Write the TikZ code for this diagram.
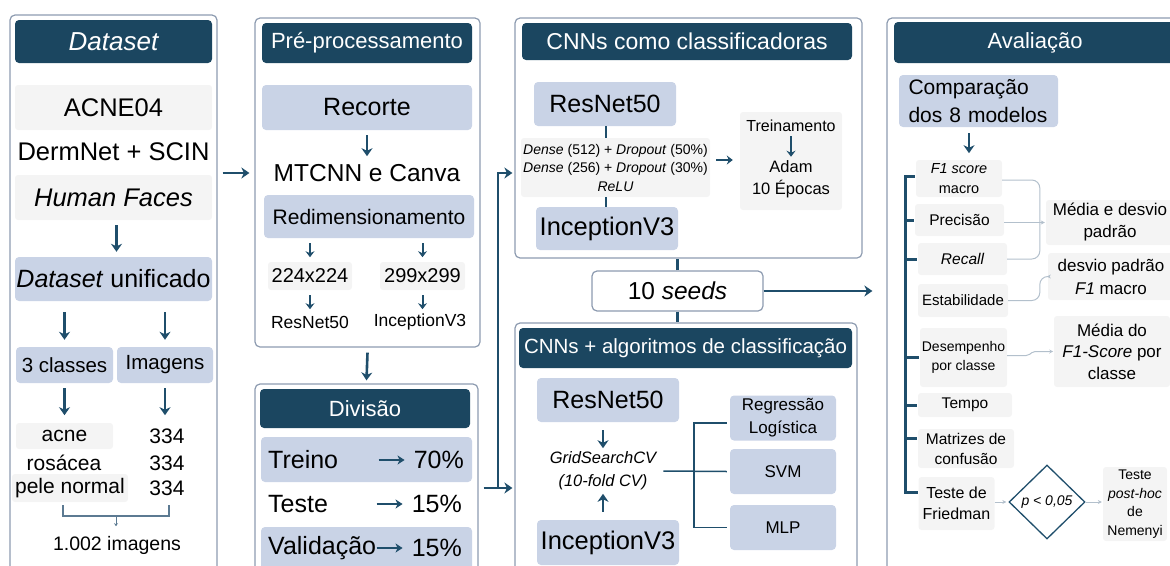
\documentclass[tikz,border=0pt]{standalone}
\usepackage{fontspec}
\setmainfont{Liberation Sans}
\usetikzlibrary{arrows.meta,shapes.geometric,calc}

\definecolor{headc}{HTML}{1B4660}
\definecolor{bluec}{HTML}{C9D3E6}
\definecolor{grayc}{HTML}{F4F4F4}
\definecolor{framec}{HTML}{8D9BB0}
\definecolor{arrc}{HTML}{1F4E6B}
\definecolor{brkc}{HTML}{5C7A92}
\definecolor{thinc}{HTML}{B3C0CC}

\newcommand\fsz[2]{\fontsize{#1}{#2}\selectfont}

\tikzset{
    wh/.style 2 args={minimum width=#1pt, minimum height=#2pt},
    panel/.style={draw=framec, line width=1.2pt, rounded corners=5pt, inner sep=0pt},
    head/.style={fill=headc, text=white, rounded corners=4pt, inner sep=0pt},
    bluebox/.style={fill=bluec, rounded corners=4pt, inner sep=0pt, align=center},
    graybox/.style={fill=grayc, rounded corners=3pt, inner sep=0pt, align=center},
    txt/.style={inner sep=0pt, align=center},
    arr/.style={draw=arrc, line width=2.6pt, -{Stealth[length=8pt,width=11pt,inset=2.5pt]}},
    smallarr/.style={draw=arrc, line width=2pt, -{Stealth[length=6pt,width=9pt,inset=2pt]}},
    txtarr/.style={draw=arrc, line width=2pt, -{Stealth[length=7pt,width=9pt,inset=2pt]}},
    link/.style={draw=arrc, line width=2.6pt},
    midline/.style={draw=arrc, line width=1.5pt},
    bus/.style={draw=arrc, line width=3pt},
    brk/.style={draw=brkc, line width=1.5pt},
    brkarr/.style={brk, line width=1pt, -{Stealth[length=3pt,width=4pt]}},
    thinline/.style={draw=thinc, line width=1pt, rounded corners=8pt},
    thinarr/.style={thinline, -{Stealth[length=4pt,width=4pt]}},
}

\begin{document}
\begin{tikzpicture}[x=1pt, y=-1pt]
    \useasboundingbox (0,0) rectangle (1170,565);

    \node[panel, wh={207}{560}] (pdata) at (113.5,295) {};
    \node[panel, wh={225}{329}] (ppre) at (367.5,182.5) {};
    \node[panel, wh={223}{191}] (pdiv) at (366.5,479.5) {};
    \node[panel, wh={347}{240}] (pcnn) at (688.5,138) {};
    \node[panel, wh={342}{252}] (pcls) at (686,449) {};
    \node[panel, wh={293}{557}] (pav) at (1033.5,296.5) {};

    \node[head, wh={197}{43}, font=\fsz{26}{30}\itshape] (dshead) at (113.5,41.5) {Dataset};
    \node[graybox, wh={197}{45}, font=\fsz{25.5}{30}] (acne04) at (113.5,107.5) {ACNE04};
    \node[txt, font=\fsz{25.5}{30}] (dermnet) at (113.5,152) {DermNet + SCIN};
    \node[graybox, wh={197}{45}, font=\fsz{25.5}{30}\itshape] (faces) at (113.5,197.5) {Human Faces};
    \node[bluebox, wh={197}{44}, font=\fsz{25}{30}] (unif) at (113.5,279) {\textit{Dataset} unificado};
    \draw[arr] ([xshift=3pt,yshift=-5pt]faces.south) -- ([xshift=3pt,yshift=5pt]unif.north);
    \node[bluebox, wh={97}{36}, font=\fsz{20.5}{24}] (cls) at (64.5,365) {3 classes};
    \node[bluebox, wh={96}{36}, font=\fsz{20.5}{24}] (img) at (165,365) {Imagens};
    \foreach \n in {cls,img} {
        \draw[arr] ([yshift=-11pt]unif.south -| \n) -- ([yshift=7pt]\n.north);
        \draw[arr] ([yshift=-5pt]\n.south) -- ++(0,27);
    }
    \node[graybox, wh={97}{26}, font=\fsz{21}{24}] (acne) at (64.5,436) {acne};
    \node[txt, font=\fsz{21}{24}] (rosacea) at (64,463) {rosácea};
    \node[graybox, wh={116}{28}, font=\fsz{21}{24}] (pele) at (70,488) {pele normal};
    \node[txt, font=\fsz{21}{24}] (n1) at (167,436) {334};
    \node[txt, font=\fsz{21}{24}] (n2) at (167,463) {334};
    \node[txt, font=\fsz{21}{24}] (n3) at (167,488) {334};
    \coordinate (bl) at ([xshift=-1.5pt,yshift=-3pt]cls.south |- pele.south);
    \coordinate (br) at ([xshift=4pt,yshift=-3pt]img.south |- pele.south);
    \draw[brk] (bl) -- ++(0,11) -| (br);
    \node[txt, font=\fsz{19.5}{23}] (total) at (117,545) {1.002 imagens};
    \draw[brkarr] ($(bl)!0.5!(br)+(0,11)$) -- ++(0,10);

    \draw[arr] (pdata.east |- dermnet) ++(0,21) ++(5,0) -- ([xshift=-5pt,yshift=-21pt]ppre.west |- dermnet);

    \node[head, wh={210}{40}, font=\fsz{22}{26}] (prehead) at (367,43) {Pré-processamento};
    \node[bluebox, wh={210}{45}, font=\fsz{25}{30}] (recorte) at (367,107.5) {Recorte};
    \node[txt, font=\fsz{24.5}{28}] (mtcnn) at (367,173) {MTCNN e Canva};
    \draw[arr] ([yshift=-5pt]recorte.south) -- ++(0,21);
    \node[bluebox, wh={210}{43}, font=\fsz{21}{25}] (redim) at (369,216.5) {Redimensionamento};
    \node[graybox, wh={84}{28}, font=\fsz{20}{24}] (r224) at (310,276) {224x224};
    \node[graybox, wh={85}{28}, font=\fsz{20}{24}] (r299) at (422.5,276) {299x299};
    \node[txt, font=\fsz{17.5}{21}] (pres) at (310,322) {ResNet50};
    \node[txt, font=\fsz{17.5}{21}] (pinc) at (420,322) {InceptionV3};
    \foreach \n in {r224,r299} {
        \draw[smallarr] ([yshift=-5pt]redim.south -| \n) -- ++(0,14);
        \draw[smallarr] ([yshift=-5pt]\n.south) -- ++(0,14);
    }

    \draw[arr] ([yshift=-5pt]ppre.south) -- ([yshift=3pt]pdiv.north);

    \node[head, wh={210}{39}, font=\fsz{22}{26}] (divhead) at (365,408.5) {Divisão};
    \node[bluebox, wh={211}{45}] (treinobox) at (366.5,459.5) {};
    \node[bluebox, wh={211}{44}] (valbox) at (366.5,549) {};
    \node[txt, anchor=west, font=\fsz{25}{30}] (treino) at (268,460) {Treino};
    \node[txt, anchor=east, font=\fsz{25}{30}] (p70) at (464,460) {70\%};
    \node[txt, anchor=west, font=\fsz{25}{30}] (teste) at (268,504) {Teste};
    \node[txt, anchor=east, font=\fsz{25}{30}] (p15a) at (462,504) {15\%};
    \node[txt, anchor=west, font=\fsz{25}{30}] (valid) at (268,548) {Validação};
    \node[txt, anchor=east, font=\fsz{25}{30}] (p15b) at (462,548) {15\%};
    \foreach \n in {p70,p15a,p15b} {
        \draw[txtarr] ([xshift=-35pt]\n.west) -- ([xshift=-9pt]\n.west);
    }

    \coordinate (split) at (498,488);
    \coordinate (up) at (498,173);
    \draw[arr] ([xshift=5pt]pdiv.east |- split) -- ([xshift=-2pt]pcls.west |- split);
    \draw[arr] (split) -- (up) -- ([xshift=-2pt]pcnn.west |- up);

    \node[head, wh={330}{37}, font=\fsz{23}{27}] (cnnhead) at (687,41.5) {CNNs como classificadoras};
    \node[bluebox, wh={142}{44}, font=\fsz{25}{30}] (res1) at (605,104) {ResNet50};
    \node[graybox, wh={189}{59}, font=\fsz{14}{18.5}] (dense) at (615.5,167.5) {\textit{Dense} (512) + \textit{Dropout} (50\%)\\\textit{Dense} (256) + \textit{Dropout} (30\%)\\\textit{ReLU}};
    \node[bluebox, wh={142}{43}, font=\fsz{25.5}{30}] (inc1) at (607,228.5) {InceptionV3};
    \draw[link] ([xshift=1pt]res1.south) -- ([xshift=1pt]res1.south |- dense.north);
    \draw[link] ([xshift=-1pt]inc1.north |- dense.south) -- ([xshift=-1pt]inc1.north);
    \node[graybox, wh={102}{98}] (trbox) at (791,161) {};
    \node[txt, font=\fsz{16}{19}] (treinam) at (791,126) {Treinamento};
    \node[txt, font=\fsz{16.5}{20}] (adam) at (791,167) {Adam};
    \node[txt, font=\fsz{16.5}{20}] (epocas) at (791,189) {10 Épocas};
    \draw[smallarr] ([yshift=-4pt]treinam.south) -- ([yshift=4pt]adam.north);
    \draw[smallarr] ([xshift=6pt,yshift=7.5pt]dense.east) -- ([xshift=-7pt,yshift=7.5pt]dense.east -| trbox.west);

    \node[draw=framec, line width=1.2pt, rounded corners=5pt, fill=white, wh={171}{40}, font=\fsz{24.5}{28}] (seeds) at (677.5,291) {10 \textit{seeds}};
    \draw[link] (seeds.north) -- (seeds.north |- pcnn.south);
    \draw[link] (seeds.south) -- (seeds.south |- pcls.north);
    \draw[arr] (seeds.east) -- ([xshift=-14pt]pav.west |- seeds);

    \node[head, wh={333}{40}, font=\fsz{20.5}{24}] (clshead) at (685.5,348) {CNNs + algoritmos de classificação};
    \node[bluebox, wh={142}{44}, font=\fsz{25}{30}] (res2) at (608,400) {ResNet50};
    \node[txt, font=\fsz{16.5}{23}\itshape] (grid) at (603,471) {GridSearchCV\\(10-fold CV)};
    \node[bluebox, wh={142}{45}, font=\fsz{25.5}{30}] (inc2) at (608,542.5) {InceptionV3};
    \draw[arr] ([yshift=-8pt]res2.south -| grid) -- ++(0,18);
    \draw[arr] ([yshift=8pt]inc2.north -| grid) -- ++(0,-18);
    \node[bluebox, wh={106}{45}, font=\fsz{17}{23}] (reg) at (783,418) {Regressão\\Logística};
    \node[bluebox, wh={106}{45}, font=\fsz{17}{20}] (svm) at (783,471.5) {SVM};
    \node[bluebox, wh={106}{45}, font=\fsz{17}{20}] (mlp) at (783,527.5) {MLP};
    \draw[midline] ([xshift=-3pt,yshift=-5pt]reg.west) -| ([xshift=-36pt]mlp.west) -- ([xshift=-3pt]mlp.west);
    \draw[midline] ([xshift=7pt]grid.east) -- ([xshift=-3pt]svm.west);

    \node[head, wh={282}{41}, font=\fsz{22}{26}] (avhead) at (1035,42.5) {Avaliação};
    \node[bluebox, wh={159}{52}, font=\fsz{21}{28}, align=left, text width=140pt] (comp) at (978.5,101) {Comparação\\dos 8 modelos};
    \draw[arr] ([xshift=-9.5pt,yshift=-6pt]comp.south) -- ++(0,20);
    \node[graybox, wh={86}{37}, font=\fsz{14.5}{20}] (f1) at (959,178.5) {\textit{F1 score}\\macro};
    \node[graybox, wh={89}{32}, font=\fsz{15.5}{20}] (prec) at (959.5,220) {Precisão};
    \node[graybox, wh={89}{32}, font=\fsz{15.5}{20}\itshape] (recall) at (962.5,259) {Recall};
    \node[graybox, wh={90}{33}, font=\fsz{15}{20}] (estab) at (963,300.5) {Estabilidade};
    \node[graybox, wh={87}{59}, font=\fsz{14}{19}] (desemp) at (963.5,357.5) {Desempenho\\por classe};
    \node[graybox, wh={94}{24}, font=\fsz{15.5}{20}] (tempo) at (965,405) {Tempo};
    \node[graybox, wh={96}{39}, font=\fsz{15.5}{20}] (matriz) at (966,448.5) {Matrizes de\\confusão};
    \node[graybox, wh={76}{53}, font=\fsz{16}{21}] (fried) at (956.5,503.5) {Teste de\\Friedman};
    \coordinate (busx) at (905,0);
    \draw[bus] ([xshift=-1pt,yshift=2pt]f1.west) -| ([yshift=11.5pt]fried.west -| busx) -- ([yshift=11.5pt]fried.west);
    \foreach \n in {prec,recall,desemp,tempo} {
        \draw[bus] (\n.west -| busx) -- ([xshift=-1pt]\n.west);
    }
    \draw[bus] ([yshift=10pt]matriz.west -| busx) -- ([xshift=-1pt,yshift=10pt]matriz.west);

    \node[graybox, wh={128}{45}, font=\fsz{17}{22}] (med) at (1110,222.5) {Média e desvio\\padrão};
    \node[graybox, wh={126}{47}, font=\fsz{17}{23}] (dpf1) at (1111,276.5) {desvio padrão\\\textit{F1} macro};
    \node[graybox, wh={116}{71}, font=\fsz{17}{21.5}] (mdf1) at (1112,351.5) {Média do\\\textit{F1-Score} por\\classe};
    \node[diamond, draw=arrc, line width=1.3pt, wh={76}{74}, inner sep=0pt, font=\fsz{14}{17}\itshape] (pval) at (1047,502) {p < 0,05};
    \node[graybox, wh={64}{74}, font=\fsz{14}{18.5}] (posthoc) at (1135,504) {Teste\\\textit{post-hoc}\\de\\Nemenyi};

    \draw[thinline] ([yshift=-1.5pt]f1.east) -| ([xshift=-6pt]med.west |- recall.east) -- (recall.east);
    \draw[thinarr] (prec.east |- med.west) -- ([xshift=-1pt]med.west);
    \draw[thinarr] (estab.east) -| ([xshift=-8pt]dpf1.west) -- ([xshift=-1pt]dpf1.west);
    \draw[thinarr, rounded corners=2pt] ([yshift=2pt]desemp.east) -- ++(21,0) -- ++(5,-4) -- ++(20,0);
    \draw[thinarr] (fried.east |- pval) -- ([xshift=-2pt]pval.west);
    \draw[thinarr] (pval.east) -- ([xshift=-1pt]posthoc.west |- pval);
\end{tikzpicture}
\end{document}
